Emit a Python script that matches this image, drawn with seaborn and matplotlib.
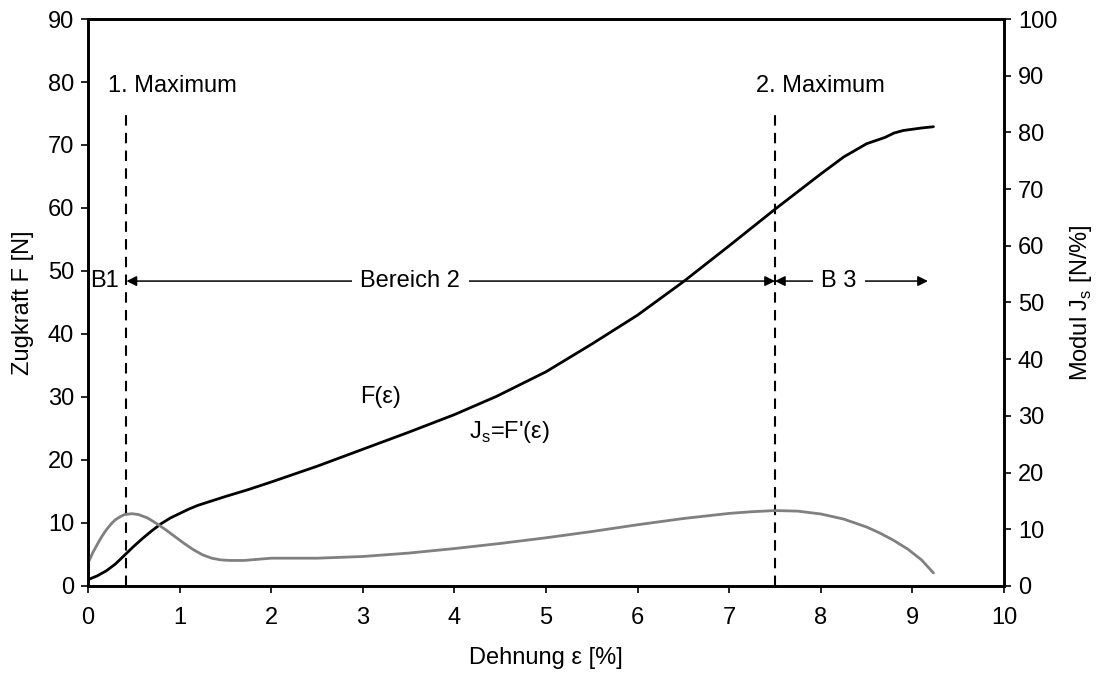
import matplotlib
matplotlib.use("Agg")
import matplotlib.pyplot as plt
import seaborn as sns
import pandas as pd

# ---- data ----
strain_F = [0.0, 0.1, 0.2, 0.3, 0.4, 0.5, 0.6, 0.7, 0.8, 0.9, 1.0, 1.1, 1.2, 1.35, 1.5, 1.75,
            2.0, 2.5, 3.0, 3.5, 4.0, 4.46, 5.0, 5.5, 6.0, 6.5, 7.0, 7.25, 7.5, 7.75, 8.0,
            8.25, 8.5, 8.6, 8.7, 8.8, 8.9, 9.0, 9.1, 9.23]
force_F = [1.0, 1.6, 2.4, 3.5, 4.9, 6.3, 7.6, 8.8, 9.9, 10.8, 11.5, 12.2, 12.8, 13.5, 14.2, 15.3,
           16.5, 19.0, 21.7, 24.4, 27.2, 30.1, 34.0, 38.4, 43.0, 48.3, 54.0, 56.9, 59.8, 62.6, 65.4,
           68.1, 70.2, 70.7, 71.2, 71.9, 72.3, 72.5, 72.7, 72.9]

strain_J = [0.0, 0.05, 0.1, 0.15, 0.2, 0.25, 0.3, 0.35, 0.4, 0.48, 0.55, 0.65, 0.75, 0.85,
            0.95, 1.05, 1.15, 1.25, 1.35, 1.45, 1.55, 1.7, 1.85, 2.0, 2.5, 3.0, 3.5, 4.0,
            4.5, 5.0, 5.5, 6.0, 6.5, 7.0, 7.25, 7.5, 7.75, 8.0, 8.25, 8.5, 8.65, 8.8,
            8.95, 9.1, 9.23]
modul_J = [4.0, 5.8, 7.3, 8.7, 9.9, 10.9, 11.7, 12.2, 12.6, 12.75, 12.6, 12.0, 11.0, 9.9,
           8.7, 7.5, 6.4, 5.5, 4.9, 4.6, 4.5, 4.5, 4.7, 4.9, 4.9, 5.2, 5.8, 6.6,
           7.5, 8.5, 9.6, 10.8, 11.9, 12.8, 13.1, 13.3, 13.2, 12.7, 11.8, 10.4, 9.3, 8.0,
           6.5, 4.6, 2.3]

max_positions = [0.42, 7.5]
max_labels = ["1. Maximum", "2. Maximum"]
max_line_top = 75
arrow_y = 48.4
b3_end = 9.17

df_F = pd.DataFrame({"x": strain_F, "y": force_F})
df_J = pd.DataFrame({"x": strain_J, "y": modul_J})

sns.set_theme(style="white")
plt.rcParams['font.family'] = ['Liberation Sans', 'DejaVu Sans']
FS = 17

fig = plt.figure(figsize=(11, 6.74), dpi=100)
ax = fig.add_axes([0.08, 0.1306, 0.8327, 0.8412])
ax2 = ax.twinx()

sns.lineplot(data=df_F, x="x", y="y", ax=ax, color="black", linewidth=2.0, sort=False)
sns.lineplot(data=df_J, x="x", y="y", ax=ax2, color="#808080", linewidth=2.0, sort=False)

ax.set_xlim(0, 10)
ax.set_ylim(0, 90)
ax2.set_ylim(0, 100)
ax.set_xticks(range(0, 11))
ax.set_yticks(range(0, 91, 10))
ax2.set_yticks(range(0, 101, 10))

for a in (ax, ax2):
    for s in a.spines.values():
        s.set_color("black")
        s.set_linewidth(1.9)
    a.tick_params(axis="both", which="major", direction="out", length=5, width=1.2,
                  color="black", labelsize=FS, labelcolor="black", pad=5)
ax.tick_params(axis="y", left=True, right=False)
ax.tick_params(axis="x", bottom=True, pad=10)
ax2.tick_params(axis="y", right=True, left=False)

ax.set_xlabel("Dehnung ε [%]", fontsize=FS, color="black", labelpad=13)
ax.set_ylabel("Zugkraft F [N]", fontsize=FS, color="black", labelpad=10)
ax2.set_ylabel("Modul J$_\\mathregular{s}$ [N/%]", fontsize=FS, color="black", labelpad=8)

# dashed maximum lines
ax.vlines(max_positions, 0, max_line_top, colors="black", linestyles=(0, (5, 3.5)), linewidth=1.5)
for xp, lab in zip(max_positions, max_labels):
    ax.text(xp + 0.5, 79.4, lab, fontsize=FS, ha="center", va="center", color="black")

# range arrows
arrowprops = dict(arrowstyle="<|-|>", color="black", lw=1.1, mutation_scale=15, shrinkA=0, shrinkB=0)
ax.annotate("", xy=(max_positions[0], arrow_y), xytext=(max_positions[1], arrow_y), arrowprops=arrowprops)
ax.text(3.52, arrow_y, "Bereich 2", fontsize=FS, ha="center", va="center", color="black",
        bbox=dict(facecolor="white", edgecolor="none", pad=6))
ax.annotate("", xy=(max_positions[1], arrow_y), xytext=(b3_end, arrow_y), arrowprops=dict(arrowprops))
ax.text(8.2, arrow_y, "B 3", fontsize=FS, ha="center", va="center", color="black",
        bbox=dict(facecolor="white", edgecolor="none", pad=6))
ax.text(0.02, arrow_y, "B1", fontsize=FS, ha="left", va="center", color="black")

ax.text(3.19, 30, "F(ε)", fontsize=FS, ha="center", va="center", color="black")
ax.text(4.6, 24.4, "J$_\\mathregular{s}$=F'(ε)", fontsize=FS, ha="center", va="center", color="black")

fig.savefig("out.png", dpi=100)
